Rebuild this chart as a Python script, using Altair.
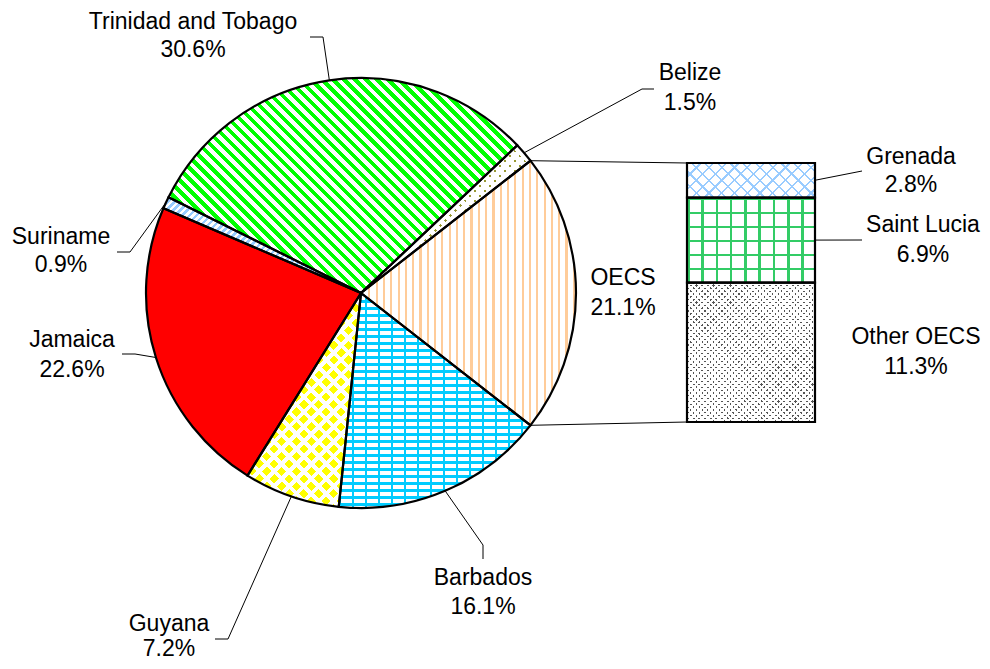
import math
import altair as alt
import pandas as pd

# ---------------- data ----------------
countries = ["OECS", "Barbados", "Guyana", "Jamaica", "Suriname",
             "Trinidad and Tobago", "Belize"]
shares = [21.1, 16.1, 7.2, 22.6, 0.9, 30.6, 1.5]
oecs_parts = ["Grenada", "Saint Lucia", "Other OECS"]
oecs_shares = [2.8, 6.9, 11.3]

# ---------------- layout ----------------
W, H = 974, 653
CX, CY, R = 353, 285, 215
PIE_TOTAL = sum(shares)
A0 = math.pi / 2 - math.pi * shares[0] / PIE_TOTAL   # OECS slice centred at 3 o'clock
BAR_L, BAR_R, BAR_T, BAR_B = 679, 807, 155, 414
BAR_TOTAL = sum(oecs_shares)
FONT = "Liberation Sans"
FS = 23
CLEAR = "rgba(255,255,255,0)"

label_layout = {
    "Trinidad and Tobago": dict(tx=185, ty1=14, ty2=42, ex=315, ey=29, lx=302, ly=29),
    "Belize": dict(tx=682, ty1=65, ty2=95, ex=634, ey=81, lx=646, ly=81),
    "OECS": dict(tx=615, ty1=270, ty2=300),
    "Barbados": dict(tx=475, ty1=570, ty2=599, ex=475, ey=537, lx=475, ly=551),
    "Guyana": dict(tx=161, ty1=616, ty2=641, ex=220, ey=631, lx=207, ly=631),
    "Jamaica": dict(tx=64, ty1=332, ty2=362, ex=127, ey=346, lx=114, ly=346),
    "Suriname": dict(tx=53, ty1=229, ty2=257, ex=122, ey=244, lx=109, ly=244),
    "Grenada": dict(tx=903, ty1=149, ty2=177, lx=854, ly=163),
    "Saint Lucia": dict(tx=915, ty1=217, ty2=247, lx=854, ly=232),
    "Other OECS": dict(tx=908, ty1=329, ty2=359),
}

PIE_PATTERNS = {
    "OECS": [("stripe", 0, 7.3, 0.3, "#FFCC99", "white")],
    "Barbados": [("stripe", 90, 7.0, 0.4, "#00CCFF", "white"),
                 ("stripe", 0, 13.0, 0.2, "#00CCFF", CLEAR)],
    "Guyana": [("stripe", 45, 10.5, 0.62, "#FFFF00", "white"),
               ("stripe", -45, 10.5, 0.38, "white", CLEAR)],
    "Jamaica": [("solid", "#FF0000")],
    "Suriname": [("stripe", 45, 5, 0.5, "#99CCFF", "white")],
    "Trinidad and Tobago": [("stripe", -45, 7.8, 0.5, "#00FF00", "white")],
    "Belize": [("stripe", 45, 7, 0.3, "#999933", "white"),
               ("stripe", -45, 7, 0.7, "white", CLEAR)],
}
BAR_PATTERNS = {
    "Grenada": [("stripe", 45, 9, 0.18, "#99CCFF", "white"),
                ("stripe", -45, 9, 0.18, "#99CCFF", CLEAR)],
    "Saint Lucia": [("stripe", 0, 14.3, 0.18, "#33CC66", "white"),
                    ("stripe", 90, 14.0, 0.18, "#33CC66", CLEAR)],
    "Other OECS": [("stripe", 45, 4, 0.38, "#555555", "white"),
                   ("stripe", -45, 4, 0.62, "white", CLEAR)],
}


def stripes(w, h, normal_deg, period, duty, on, off):
    th = math.radians(normal_deg)
    nx, ny = math.cos(th), math.sin(th)
    ss = [X * nx + Y * ny for X in (0, w) for Y in (0, h)]
    smin, smax = min(ss), max(ss)
    S = smax - smin
    ax, ay = w * nx / S, h * ny / S
    a2 = ax * ax + ay * ay
    k = smin / S / a2
    p1 = (ax * k, ay * k)
    p2 = (p1[0] + ax / a2, p1[1] + ay / a2)
    N = S / period
    stops = []
    i = 0
    while i / N < 1:
        s, e, n = i / N, (i + duty) / N, (i + 1) / N
        for o, c in ((s, on), (e, on), (e, off), (n, off)):
            stops.append({"offset": round(min(max(o, 0.0), 1.0), 5), "color": c})
        i += 1
    return {"gradient": "linear", "x1": round(p1[0], 5), "y1": round(p1[1], 5),
            "x2": round(p2[0], 5), "y2": round(p2[1], 5), "stops": stops}


def make_fill(spec, w, h):
    if spec[0] == "solid":
        return spec[1]
    _, ang, per, duty, on, off = spec
    return stripes(w, h, ang, per, duty, on, off)


def arc_bbox(a0, a1):
    pts = [(0, 0), (R * math.sin(a0), -R * math.cos(a0)), (R * math.sin(a1), -R * math.cos(a1))]
    for k in range(-4, 12):
        c = k * math.pi / 2
        if a0 < c < a1:
            pts.append((R * math.sin(c), -R * math.cos(c)))
    xs = [p[0] for p in pts]
    ys = [p[1] for p in pts]
    return max(xs) - min(xs), max(ys) - min(ys)


layout_df = pd.DataFrame([{"name": k, **v} for k, v in label_layout.items()])
pie_df = pd.DataFrame({"name": countries, "value": shares, "order": list(range(len(countries)))})
bar_df = pd.DataFrame({"name": oecs_parts, "value": oecs_shares, "order": list(range(len(oecs_parts)))})
pie_tbl = pie_df.merge(layout_df, on="name", how="left")
bar_tbl = bar_df.merge(layout_df, on="name", how="left")


def pie_base():
    return (alt.Chart(pie_tbl)
            .transform_joinaggregate(total="sum(value)")
            .transform_window(cum="sum(value)", sort=[alt.SortField("order")], frame=[None, 0])
            .transform_calculate(
                f0="(datum.cum - datum.value) / datum.total",
                f1="datum.cum / datum.total",
                fm="(datum.cum - datum.value / 2) / datum.total"))


def bar_base():
    return (alt.Chart(bar_tbl)
            .transform_joinaggregate(total="sum(value)")
            .transform_window(cum="sum(value)", sort=[alt.SortField("order")], frame=[None, 0])
            .transform_calculate(b0="datum.cum - datum.value", b1="datum.cum",
                                 bm="datum.cum - datum.value / 2"))


theta_scale = alt.Scale(domain=[0, 1], range=[A0, A0 + 2 * math.pi])
bar_scale = alt.Scale(domain=[0, BAR_TOTAL], range=[BAR_T, BAR_B], nice=False, zero=False)


def arc_enc(ch):
    return ch.encode(theta=alt.Theta("f0:Q", scale=theta_scale, stack=None),
                     theta2=alt.Theta2("f1:Q"),
                     x=alt.value(CX), y=alt.value(CY))


layers = []
cum = 0.0
for name, val in zip(countries, shares):
    a0 = A0 + 2 * math.pi * cum / PIE_TOTAL
    a1 = A0 + 2 * math.pi * (cum + val) / PIE_TOTAL
    cum += val
    w, h = arc_bbox(a0, a1)
    for spec in PIE_PATTERNS[name]:
        layers.append(arc_enc(pie_base().transform_filter(alt.datum.name == name)
                              .mark_arc(outerRadius=R, fill=make_fill(spec, w, h), strokeWidth=0)))

layers.append(arc_enc(pie_base().mark_arc(outerRadius=R, fill="white", fillOpacity=0,
                                          stroke="black", strokeWidth=2.2)))

for name, val in zip(oecs_parts, oecs_shares):
    w = BAR_R - BAR_L
    h = val / BAR_TOTAL * (BAR_B - BAR_T)
    for spec in BAR_PATTERNS[name]:
        layers.append(bar_base().transform_filter(alt.datum.name == name)
                      .mark_rect(fill=make_fill(spec, w, h), strokeWidth=0)
                      .encode(y=alt.Y("b0:Q", scale=bar_scale, axis=None), y2="b1:Q",
                              x=alt.value(BAR_L), x2=alt.value(BAR_R)))

layers.append(bar_base().mark_rect(fill="white", fillOpacity=0, stroke="black", strokeWidth=2.2)
              .encode(y=alt.Y("b0:Q", scale=bar_scale, axis=None), y2="b1:Q",
                      x=alt.value(BAR_L), x2=alt.value(BAR_R)))

# connectors from the OECS slice to the bar
ang = f"({A0} + 2 * PI * datum.%s)"
conn = pie_base().transform_filter(alt.datum.name == "OECS").transform_calculate(
    xa=f"{CX} + {R} * sin({ang % 'f0'})", ya=f"{CY} - {R} * cos({ang % 'f0'})",
    xb=f"{CX} + {R} * sin({ang % 'f1'})", yb=f"{CY} - {R} * cos({ang % 'f1'})",
    bl=f"{BAR_L}", bt=f"{BAR_T}", bb=f"{BAR_B}")
layers.append(conn.mark_rule(color="black", strokeWidth=1).encode(
    x=alt.X("xa:Q", scale=None, axis=None), y=alt.Y("ya:Q", scale=None, axis=None),
    x2="bl:Q", y2="bt:Q"))
layers.append(conn.mark_rule(color="black", strokeWidth=1).encode(
    x=alt.X("xb:Q", scale=None, axis=None), y=alt.Y("yb:Q", scale=None, axis=None),
    x2="bl:Q", y2="bb:Q"))

# leader lines on the pie
lead = pie_base().transform_filter("isValid(datum.ex)").transform_calculate(
    px=f"{CX} + {R} * sin({ang % 'fm'})", py=f"{CY} - {R} * cos({ang % 'fm'})")
layers.append(lead.mark_rule(color="black", strokeWidth=1).encode(
    x=alt.X("px:Q", scale=None, axis=None), y=alt.Y("py:Q", scale=None, axis=None),
    x2="ex:Q", y2="ey:Q"))
layers.append(lead.mark_rule(color="black", strokeWidth=1).encode(
    x=alt.X("ex:Q", scale=None, axis=None), y=alt.Y("ey:Q", scale=None, axis=None),
    x2="lx:Q", y2="ly:Q"))

# leader lines on the bar
blead = bar_base().transform_filter("isValid(datum.lx)").transform_calculate(
    mx=f"{BAR_R}",
    my=f"{BAR_T} + datum.bm / datum.total * {BAR_B - BAR_T}")
layers.append(blead.mark_rule(color="black", strokeWidth=1).encode(
    x=alt.X("mx:Q", scale=None, axis=None), y=alt.Y("my:Q", scale=None, axis=None),
    x2="lx:Q", y2="ly:Q"))

# labels
for base in (pie_base(), bar_base()):
    lab = base.transform_calculate(pct="format(datum.value, '.1f') + '%'")
    layers.append(lab.mark_text(font=FONT, fontSize=FS, color="black", align="center",
                                baseline="middle").encode(
        x=alt.X("tx:Q", scale=None, axis=None), y=alt.Y("ty1:Q", scale=None, axis=None),
        text="name:N"))
    layers.append(lab.mark_text(font=FONT, fontSize=FS, color="black", align="center",
                                baseline="middle").encode(
        x=alt.X("tx:Q", scale=None, axis=None), y=alt.Y("ty2:Q", scale=None, axis=None),
        text="pct:N"))

chart = (alt.layer(*layers)
         .properties(width=W, height=H, padding=0,
                     autosize=alt.AutoSizeParams(type="none"), background="white")
         .resolve_scale(x="independent", y="independent")
         .configure_view(stroke="transparent"))

chart.save("out.html", embed_options={"renderer": "svg", "actions": False})
